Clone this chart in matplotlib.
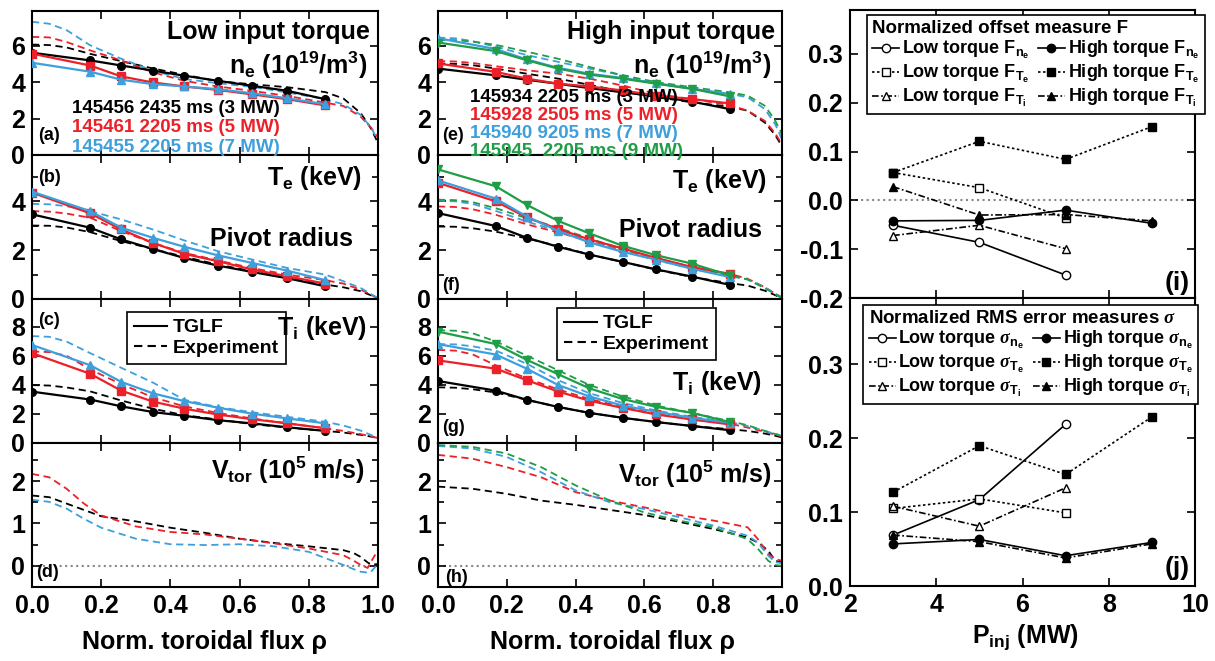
import matplotlib
matplotlib.use('Agg')
import matplotlib.pyplot as plt
from matplotlib import font_manager
from matplotlib.lines import Line2D
from matplotlib.ticker import FormatStrFormatter, MultipleLocator

names = {f.name for f in font_manager.fontManager.ttflist}
FONT = 'Liberation Sans Narrow' if 'Liberation Sans Narrow' in names else 'Liberation Sans'
plt.rcParams['font.family'] = [FONT, 'DejaVu Sans']
plt.rcParams['font.weight'] = 'bold'
plt.rcParams['axes.unicode_minus'] = False
plt.rcParams['mathtext.fontset'] = 'custom'
plt.rcParams['mathtext.rm'] = FONT + ':bold'
plt.rcParams['mathtext.bf'] = FONT + ':bold'
plt.rcParams['mathtext.it'] = 'Liberation Serif:italic'
plt.rcParams['mathtext.default'] = 'rm'

# ---------------- data ----------------
rho_tglf = [0.0, 0.168, 0.258, 0.349, 0.44, 0.537, 0.635, 0.738, 0.848]
rho_exp = [0.0, 0.05, 0.1, 0.168, 0.258, 0.349, 0.44, 0.537, 0.635, 0.738, 0.848, 0.9, 0.95, 0.98, 1.0]
rho_v_low = [0.0, 0.05, 0.1, 0.15, 0.2, 0.3, 0.4, 0.5, 0.6, 0.7, 0.8, 0.9, 0.93, 0.95, 0.97, 0.98, 1.0]
rho_v_high = [0.0, 0.1, 0.2, 0.3, 0.4, 0.5, 0.6, 0.7, 0.8, 0.9, 0.93, 0.96, 0.98, 1.0]

low_labels = ['145456 2435 ms (3 MW)', '145461 2205 ms (5 MW)', '145455 2205 ms (7 MW)']
high_labels = ['145934 2205 ms (3 MW)', '145928 2505 ms (5 MW)', '145940 9205 ms (7 MW)',
               '145945  2205 ms (9 MW)']

# low torque, TGLF (3, 5, 7 MW)
ne_low_tglf = [[5.61, 5.19, 4.91, 4.63, 4.35, 4.07, 3.80, 3.52, 3.06],
               [5.56, 4.91, 4.31, 3.98, 3.76, 3.57, 3.33, 3.06, 2.72],
               [5.06, 4.57, 4.13, 3.89, 3.76, 3.61, 3.39, 3.11, 2.78]]
te_low_tglf = [[3.47, 2.92, 2.44, 2.05, 1.68, 1.37, 1.11, 0.85, 0.52],
               [4.36, 3.51, 2.85, 2.30, 1.85, 1.55, 1.21, 0.93, 0.63],
               [4.40, 3.60, 2.92, 2.51, 2.14, 1.79, 1.48, 1.16, 0.77]]
ti_low_tglf = [[3.53, 2.99, 2.52, 2.13, 1.87, 1.57, 1.35, 1.08, 0.83],
               [6.18, 4.76, 3.60, 2.85, 2.36, 1.96, 1.64, 1.35, 1.01],
               [6.74, 5.35, 4.20, 3.42, 2.88, 2.43, 2.02, 1.69, 1.35]]
# low torque, experiment
ne_low_exp = [[6.06, 6.03, 5.90, 5.55, 5.15, 4.75, 4.40, 4.05, 3.88, 3.72, 3.45, 3.10, 2.30, 1.45, 0.65],
              [6.48, 6.45, 6.20, 5.74, 5.19, 4.54, 4.07, 3.76, 3.52, 3.24, 2.87, 2.69, 2.10, 1.50, 0.95],
              [7.31, 7.20, 6.85, 6.02, 5.28, 4.63, 4.17, 3.94, 3.74, 3.43, 3.06, 2.78, 2.20, 1.50, 0.80]]
te_low_exp = [[3.01, 3.00, 2.93, 2.74, 2.37, 2.05, 1.73, 1.41, 1.14, 0.86, 0.59, 0.48, 0.32, 0.15, 0.00],
              [3.60, 3.58, 3.50, 3.33, 2.78, 2.30, 1.89, 1.58, 1.27, 1.00, 0.77, 0.63, 0.38, 0.18, 0.00],
              [3.90, 3.88, 3.80, 3.60, 3.26, 2.85, 2.40, 1.96, 1.62, 1.27, 1.00, 0.73, 0.45, 0.20, 0.04]]
ti_low_exp = [[3.98, 3.95, 3.82, 3.55, 2.92, 2.36, 1.91, 1.62, 1.30, 1.06, 0.83, 0.72, 0.56, 0.44, 0.34],
              [6.29, 6.25, 6.00, 5.06, 4.04, 3.15, 2.52, 2.07, 1.69, 1.35, 1.01, 0.83, 0.61, 0.45, 0.34],
              [7.35, 7.30, 6.97, 6.18, 5.17, 4.16, 2.97, 2.47, 2.12, 1.80, 1.46, 1.20, 0.85, 0.55, 0.34]]
vt_low_exp = [[1.66, 1.62, 1.47, 1.32, 1.17, 1.05, 0.90, 0.78, 0.64, 0.54, 0.46, 0.37, 0.30, 0.21, 0.08, 0.03, 0.04],
              [2.17, 2.09, 1.82, 1.47, 1.19, 0.93, 0.80, 0.74, 0.64, 0.53, 0.41, 0.25, 0.12, 0.02, -0.05, 0.10, 0.37],
              [1.56, 1.51, 1.35, 1.11, 0.90, 0.64, 0.51, 0.49, 0.51, 0.46, 0.33, 0.02, -0.08, -0.14, -0.16, -0.14, 0.05]]

# high torque, TGLF (3, 5, 7, 9 MW)
ne_high_tglf = [[4.74, 4.37, 4.13, 3.91, 3.67, 3.44, 3.22, 2.93, 2.52],
                [5.02, 4.56, 4.19, 3.91, 3.76, 3.54, 3.26, 3.07, 2.83],
                [6.41, 5.81, 5.24, 4.78, 4.46, 4.22, 3.94, 3.63, 3.35],
                [6.17, 5.70, 5.20, 4.74, 4.41, 4.19, 3.91, 3.63, 3.22]]
te_high_tglf = [[3.52, 2.99, 2.51, 2.14, 1.82, 1.52, 1.21, 0.92, 0.58],
                [4.76, 4.00, 3.34, 2.87, 2.44, 2.07, 1.68, 1.31, 1.03],
                [4.86, 4.11, 3.38, 2.79, 2.32, 1.93, 1.61, 1.24, 0.90],
                [5.31, 4.62, 3.86, 3.20, 2.69, 2.18, 1.79, 1.45, 0.97]]
ti_high_tglf = [[4.26, 3.60, 2.97, 2.48, 2.07, 1.73, 1.44, 1.17, 0.88],
                [5.68, 5.11, 4.32, 3.54, 2.91, 2.41, 1.96, 1.62, 1.28],
                [6.80, 6.08, 5.11, 3.99, 3.20, 2.57, 2.14, 1.73, 1.40],
                [7.66, 6.80, 5.72, 4.73, 3.76, 3.02, 2.48, 2.07, 1.44]]
# high torque, experiment
ne_high_exp = [[5.02, 5.00, 4.93, 4.74, 4.46, 4.19, 3.85, 3.48, 3.17, 2.89, 2.65, 2.43, 1.78, 1.10, 0.48],
               [5.15, 5.13, 5.05, 4.87, 4.65, 4.46, 4.19, 3.81, 3.35, 3.07, 2.74, 2.43, 1.87, 1.20, 0.57],
               [6.44, 6.40, 6.25, 5.94, 5.48, 5.11, 4.74, 4.37, 3.91, 3.67, 3.35, 3.17, 2.52, 1.70, 0.85],
               [6.31, 6.30, 6.22, 6.04, 5.67, 5.28, 4.83, 4.37, 4.00, 3.72, 3.44, 3.26, 2.70, 1.90, 1.13]]
te_high_exp = [[2.97, 2.96, 2.90, 2.76, 2.48, 2.17, 1.82, 1.52, 1.20, 0.90, 0.65, 0.55, 0.34, 0.16, 0.03],
               [3.79, 3.77, 3.68, 3.45, 3.06, 2.73, 2.37, 2.00, 1.66, 1.31, 1.03, 0.83, 0.48, 0.22, 0.07],
               [4.03, 4.00, 3.90, 3.61, 3.17, 2.79, 2.37, 1.96, 1.59, 1.24, 0.94, 0.80, 0.48, 0.22, 0.07],
               [4.07, 4.05, 3.97, 3.72, 3.31, 2.92, 2.48, 2.04, 1.66, 1.31, 0.97, 0.80, 0.44, 0.20, 0.03]]
ti_high_exp = [[3.83, 3.80, 3.70, 3.47, 2.97, 2.48, 2.07, 1.73, 1.44, 1.17, 0.95, 0.83, 0.65, 0.50, 0.38],
               [6.40, 6.35, 6.10, 5.34, 4.44, 3.69, 3.02, 2.48, 2.00, 1.62, 1.33, 1.06, 0.77, 0.58, 0.45],
               [6.80, 6.78, 6.65, 6.35, 5.45, 4.32, 3.42, 2.75, 2.23, 1.80, 1.44, 1.17, 0.83, 0.62, 0.50],
               [7.75, 7.72, 7.55, 6.98, 6.01, 5.00, 3.99, 3.20, 2.57, 2.07, 1.51, 1.22, 0.83, 0.62, 0.50]]
vt_high_exp = [[1.87, 1.82, 1.70, 1.54, 1.44, 1.32, 1.20, 1.04, 0.87, 0.67, 0.55, 0.36, 0.12, 0.08],
               [2.62, 2.53, 2.33, 2.09, 1.74, 1.54, 1.38, 1.20, 1.07, 0.91, 0.63, 0.28, 0.16, 0.12],
               [2.83, 2.77, 2.57, 2.21, 1.78, 1.50, 1.34, 1.15, 0.95, 0.71, 0.55, 0.24, 0.09, 0.06],
               [2.85, 2.81, 2.65, 2.33, 1.90, 1.54, 1.26, 1.07, 0.91, 0.63, 0.40, 0.12, 0.02, 0.00]]

# offset / rms measures
P_low = [3, 5, 7]
P_high = [3, 5, 7, 9]
F_ne_low = [-0.051, -0.086, -0.153]
F_Te_low = [0.057, 0.026, -0.036]
F_Ti_low = [-0.072, -0.051, -0.099]
F_ne_high = [-0.042, -0.041, -0.020, -0.047]
F_Te_high = [0.057, 0.121, 0.084, 0.151]
F_Ti_high = [0.028, -0.030, -0.029, -0.042]
S_ne_low = [0.069, 0.117, 0.219]
S_Te_low = [0.105, 0.118, 0.099]
S_Ti_low = [0.108, 0.081, 0.133]
S_ne_high = [0.057, 0.063, 0.041, 0.059]
S_Te_high = [0.127, 0.190, 0.151, 0.229]
S_Ti_high = [0.069, 0.060, 0.038, 0.057]

# ---------------- styling ----------------
COLORS = ['#000000', '#ec2028', '#3d9fdc', '#1f9d47']
MARKERS = ['o', 's', '^', 'v']
W, H = 1215, 661
fig = plt.figure(figsize=(W / 100, H / 100), dpi=100)


def add_ax(x0, x1, ytop, ybot):
    return fig.add_axes([x0 / W, 1 - ybot / H, (x1 - x0) / W, (ybot - ytop) / H])


def style(ax):
    ax.tick_params(direction='in', which='both', top=True, right=True,
                   labelsize=18, width=1.2, pad=5)
    ax.tick_params(which='major', length=6)
    ax.tick_params(which='minor', length=4)
    for s in ax.spines.values():
        s.set_linewidth(1.5)


def ftext(x, y, s, **kw):
    kw.setdefault('fontweight', 'bold')
    fig.text(x / W, 1 - y / H, s, **kw)


def profile_panel(ax, tglf, exp, rho_e, ylim, major, minor, bottom=False, solid=True):
    n = len(exp)
    for i in range(n):
        ax.plot(rho_e, exp[i], color=COLORS[i], lw=1.3, ls=(0, (4, 2.5)), zorder=2)
    if solid:
        for i in range(n):
            ax.plot(rho_tglf, tglf[i], color=COLORS[i], lw=1.6, marker=MARKERS[i],
                    ms=6 if MARKERS[i] != 'o' else 5.5, zorder=3)
    ax.set_xlim(0, 1.0)
    ax.set_ylim(*ylim)
    ax.set_xticks([0.0, 0.2, 0.4, 0.6, 0.8, 1.0])
    ax.yaxis.set_major_locator(MultipleLocator(major))
    if minor:
        ax.yaxis.set_minor_locator(MultipleLocator(minor))
    ax.xaxis.set_major_formatter(FormatStrFormatter('%.1f'))
    ax.yaxis.set_major_formatter(FormatStrFormatter('%d'))
    style(ax)
    ax.tick_params(labelbottom=bottom)


tops = [11, 155, 299, 443]
bots = [155, 299, 443, 587]
cols = [(32, 378), (438, 782)]
ylims = [(0, 7.9), (0, 5.9), (0, 9.9), (-0.5, 2.9)]
majors = [2, 2, 2, 1]
minors = [None, 1, None, 0.5]

low_sets = [(ne_low_tglf, ne_low_exp, rho_exp), (te_low_tglf, te_low_exp, rho_exp),
            (ti_low_tglf, ti_low_exp, rho_exp), (None, vt_low_exp, rho_v_low)]
high_sets = [(ne_high_tglf, ne_high_exp, rho_exp), (te_high_tglf, te_high_exp, rho_exp),
             (ti_high_tglf, ti_high_exp, rho_exp), (None, vt_high_exp, rho_v_high)]

axes = {}
for c, sets in enumerate([low_sets, high_sets]):
    for r in range(4):
        ax = add_ax(cols[c][0], cols[c][1], tops[r], bots[r])
        tg, ex, rr = sets[r]
        profile_panel(ax, tg, ex, rr, ylims[r], majors[r], minors[r],
                      bottom=(r == 3), solid=(tg is not None))
        if r == 3:
            ax.axhline(0, color='#888888', ls=':', lw=1.5, zorder=1)
        axes[(c, r)] = ax

# legends TGLF / Experiment
leg_handles = [Line2D([], [], color='k', lw=1.5), Line2D([], [], color='k', lw=1.5, ls=(0, (4, 2.5)))]
for c, anchor in [(0, (0.275, 0.91)), (1, (0.346, 0.9375))]:
    lg = axes[(c, 2)].legend(leg_handles, ['TGLF', 'Experiment'], loc='upper left',
                             bbox_to_anchor=anchor, borderaxespad=0, fancybox=False,
                             edgecolor='k', framealpha=1, fontsize=14, handlelength=1.7,
                             handletextpad=0.3, labelspacing=0.15, borderpad=0.35)
    lg.get_frame().set_linewidth(1.2)

# panel texts, low torque column
ftext(370, 39.5, 'Low input torque', ha='right', va='baseline', fontsize=18)
ftext(367, 74, r'n$_{e}$ (10$^{19}$/m$^{3}$)', ha='right', va='baseline', fontsize=18)
for i, lab in enumerate(low_labels):
    ftext(72, 113 + 19.5 * i, lab, ha='left', va='baseline', fontsize=13.5, color=COLORS[i])
ftext(38, 140, '(a)', va='baseline', fontsize=13)
ftext(38, 182, '(b)', va='baseline', fontsize=13)
ftext(362, 185, r'T$_{e}$ (keV)', ha='right', va='baseline', fontsize=18)
ftext(353, 246, 'Pivot radius', ha='right', va='baseline', fontsize=18)
ftext(38, 325, '(c)', va='baseline', fontsize=13)
ftext(367, 335, r'T$_{i}$ (keV)', ha='right', va='baseline', fontsize=18)
ftext(365, 479, r'V$_{tor}$ (10$^{5}$ m/s)', ha='right', va='baseline', fontsize=18)
ftext(36, 577, '(d)', va='baseline', fontsize=13)

# panel texts, high torque column
ftext(775, 39.5, 'High input torque', ha='right', va='baseline', fontsize=18)
ftext(771, 74, r'n$_{e}$ (10$^{19}$/m$^{3}$)', ha='right', va='baseline', fontsize=18)
for i, lab in enumerate(high_labels):
    ftext(470, 101.5 + 18 * i, lab, ha='left', va='baseline', fontsize=13.5, color=COLORS[i])
ftext(442, 140, '(e)', va='baseline', fontsize=13)
ftext(767, 188, r'T$_{e}$ (keV)', ha='right', va='baseline', fontsize=18)
ftext(762, 237, 'Pivot radius', ha='right', va='baseline', fontsize=18)
ftext(442, 290, '(f)', va='baseline', fontsize=13)
ftext(762, 390, r'T$_{i}$ (keV)', ha='right', va='baseline', fontsize=18)
ftext(442, 432, '(g)', va='baseline', fontsize=13)
ftext(772, 483, r'V$_{tor}$ (10$^{5}$ m/s)', ha='right', va='baseline', fontsize=18)
ftext(445, 582, '(h)', va='baseline', fontsize=13)

ftext(205, 642, 'Norm. toroidal flux ρ', ha='center', va='center', fontsize=18)
ftext(613, 642, 'Norm. toroidal flux ρ', ha='center', va='center', fontsize=18)

# ---------------- right column ----------------
axi = add_ax(850, 1195, 10, 298)
axj = add_ax(850, 1195, 298, 586)
LS = {'ne': '-', 'Te': (0, (1.5, 1.5)), 'Ti': (0, (4, 1.5, 1, 1.5))}
MK = {'ne': 'o', 'Te': 's', 'Ti': '^'}


def measure_panel(ax, low, high, sym, title, anchor):
    handles, labels = [], []
    keys = ['ne', 'Te', 'Ti']
    subs = {'ne': 'n_e', 'Te': 'T_e', 'Ti': 'T_i'}
    for k, y in zip(keys, low):
        h, = ax.plot(P_low, y, color='k', lw=1.2, ls=LS[k], marker=MK[k], ms=6,
                     mfc='white', mec='k', mew=1.0)
        handles.append(h)
        labels.append('Low torque ' + sym + '$_{' + subs[k] + '}$')
    for k, y in zip(keys, high):
        h, = ax.plot(P_high, y, color='k', lw=1.2, ls=LS[k], marker=MK[k], ms=6,
                     mfc='k', mec='k')
        handles.append(h)
        labels.append('High torque ' + sym + '$_{' + subs[k] + '}$')
    lg = ax.legend(handles, labels, ncol=2, loc='upper left', bbox_to_anchor=anchor,
                   borderaxespad=0, fancybox=False, edgecolor='k', framealpha=1,
                   fontsize=13, title=title, title_fontproperties={'weight': 'bold', 'size': 13.5},
                   alignment='left', handlelength=1.5, handletextpad=0.15,
                   columnspacing=0.45, labelspacing=0.1, borderpad=0.3)
    lg.get_frame().set_linewidth(1.2)
    ax.set_xlim(2, 10)
    ax.set_xticks([2, 4, 6, 8, 10])
    ax.yaxis.set_major_formatter(FormatStrFormatter('%.1f'))
    style(ax)


measure_panel(axi, [F_ne_low, F_Te_low, F_Ti_low], [F_ne_high, F_Te_high, F_Ti_high],
              'F', 'Normalized offset measure F', (0.049, 0.983))
axi.axhline(0, color='#888888', ls=':', lw=1.5, zorder=1)
axi.set_ylim(-0.2, 0.39)
axi.set_yticks([-0.2, -0.1, 0.0, 0.1, 0.2, 0.3])
axi.tick_params(labelbottom=False)

measure_panel(axj, [S_ne_low, S_Te_low, S_Ti_low], [S_ne_high, S_Te_high, S_Ti_high],
              r'$\mathit{\sigma}$', r'Normalized RMS error measures $\mathit{\sigma}$', (0.038, 0.976))
axj.set_ylim(0, 0.39)
axj.set_yticks([0.0, 0.1, 0.2, 0.3])

ftext(1190, 290, '(i)', ha='right', va='baseline', fontsize=19)
ftext(1190, 575, '(j)', ha='right', va='baseline', fontsize=19)
ftext(1025, 637, r'P$_{inj}$ (MW)', ha='center', va='center', fontsize=18)

fig.savefig('out.png', dpi=100)
